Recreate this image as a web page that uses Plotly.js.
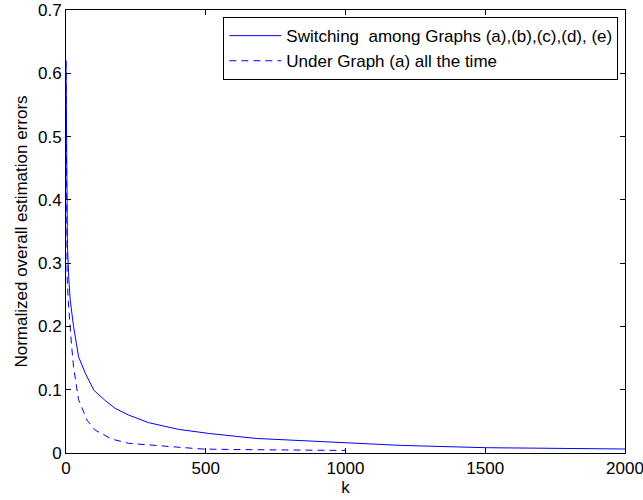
<!DOCTYPE html>
<html>
<head>
<meta charset="utf-8">
<script src="https://cdn.plot.ly/plotly-3.0.1.min.js"></script>
<style>html,body{margin:0;padding:0;background:#fff;}#chart{width:643px;height:500px;}</style>
</head>
<body>
<div id="chart"></div>
<script>
var kSwitch = [0, 2, 5, 10, 15, 27, 45, 69, 100, 140, 176, 224, 295, 402, 509, 681, 800, 1000, 1200, 1500, 1750, 2000];
var errSwitch = [0.62, 0.42, 0.33, 0.275, 0.242, 0.20, 0.152, 0.126, 0.099, 0.083, 0.0705, 0.060, 0.048, 0.0374, 0.031, 0.023, 0.0205, 0.0153, 0.012, 0.0084, 0.0073, 0.0063];
var kGraphA = [0, 2, 4, 8, 15, 20, 27, 45, 50, 75, 105, 164, 224, 307, 379, 486, 600, 800, 1000];
var errGraphA = [0.62, 0.35, 0.28, 0.24, 0.19, 0.17, 0.136, 0.084, 0.079, 0.052, 0.036, 0.022, 0.0153, 0.0126, 0.010, 0.0063, 0.0055, 0.0045, 0.004];
var seriesNames = ['Switching\u00a0\u00a0among Graphs (a),(b),(c),(d), (e)', 'Under Graph (a) all the time'];
var xTicks = [0, 500, 1000, 1500, 2000];
var yTicks = [0, 0.1, 0.2, 0.3, 0.4, 0.5, 0.6, 0.7];

var traces = [
  {x: kSwitch, y: errSwitch, name: seriesNames[0], mode: 'lines', line: {color: '#0000ff', width: 1}},
  {x: kGraphA, y: errGraphA, name: seriesNames[1], mode: 'lines', line: {color: '#0000ff', width: 1, dash: '7px,5px'}}
];
var font = {family: '"Liberation Sans", Arial, sans-serif', size: 17, color: '#000'};
var layout = {
  width: 643, height: 500,
  margin: {l: 66, r: 18, t: 10, b: 47},
  paper_bgcolor: '#fff', plot_bgcolor: '#fff',
  font: font,
  showlegend: true,
  legend: {x: 0.988, y: 0.984, xanchor: 'right', yanchor: 'top', bordercolor: '#000', borderwidth: 1, bgcolor: '#fff', font: font, itemwidth: 52},
  xaxis: {
    range: [0, 2000], tickvals: xTicks, ticktext: xTicks.map(String), ticklabeloverflow: 'allow',
    showgrid: false, zeroline: false, showline: true, linecolor: '#000', linewidth: 1,
    mirror: 'ticks', ticks: 'inside', ticklen: 5, tickcolor: '#000',
    title: {text: 'k', font: font, standoff: 2}, automargin: false
  },
  yaxis: {
    range: [0, 0.7], tickvals: yTicks, ticktext: yTicks.map(function(v){return v === 0 ? '0' : v.toFixed(1);}),
    showgrid: false, zeroline: false, showline: true, linecolor: '#000', linewidth: 1,
    mirror: 'ticks', ticks: 'inside', ticklen: 5, tickcolor: '#000',
    title: {text: 'Normalized overall estimation errors', font: font, standoff: 6}, automargin: false
  }
};
Plotly.newPlot('chart', traces, layout, {displayModeBar: false, staticPlot: true});
</script>
</body>
</html>
